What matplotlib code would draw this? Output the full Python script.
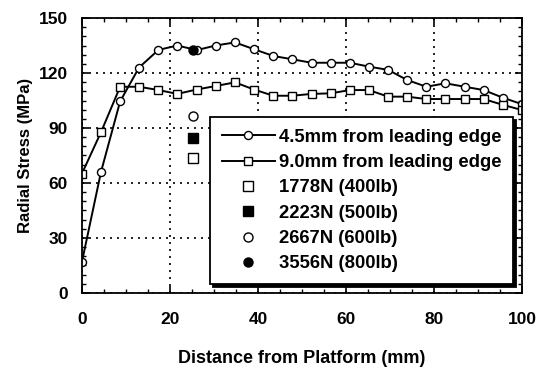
import matplotlib
matplotlib.use('Agg')
import matplotlib.pyplot as plt

plt.rcParams['font.family'] = ['Liberation Sans', 'DejaVu Sans']
plt.rcParams['font.weight'] = 'bold'

# distance from platform (mm)
dist = [0, 4.35, 8.7, 13.0, 17.4, 21.7, 26.1, 30.4, 34.8, 39.1, 43.5, 47.8,
        52.2, 56.5, 60.9, 65.2, 69.6, 73.9, 78.3, 82.6, 87.0, 91.3, 95.7, 100]
# 4.5mm from leading edge
stress_45 = [16.7, 66, 104.5, 123, 132.6, 135, 132.5, 135, 136.7, 133, 129.3, 127.5,
             125.6, 125.6, 125.6, 123.5, 121.7, 116.2, 112.5, 114.4, 112.5, 110.7, 106.5, 103]
# 9.0mm from leading edge
stress_90 = [65, 87.7, 112.5, 112.5, 110.7, 108.6, 111, 112.9, 114.9, 111, 107.6, 107.6,
             108.6, 108.9, 110.7, 110.7, 107.1, 107.1, 105.8, 105.8, 105.8, 105.8, 102.6, 99.8]

# single load points
load_x = 25.3
load_1778 = 73.5
load_2223 = 84.4
load_2667 = 96.6
load_3556 = 132.3

fig = plt.figure(figsize=(5.42, 3.68), dpi=100)
ax = fig.add_axes([0.151, 0.204, 0.812, 0.747])

ax.plot(dist, stress_45, '-o', color='black', lw=1.4, ms=5.8, mfc='white', mec='black',
        mew=1.0, label='4.5mm from leading edge')
ax.plot(dist, stress_90, '-s', color='black', lw=1.4, ms=5.8, mfc='white', mec='black',
        mew=1.0, label='9.0mm from leading edge')
ax.plot([load_x], [load_1778], 's', ms=6.5, mfc='white', mec='black', mew=1.0,
        ls='none', label='1778N (400lb)')
ax.plot([load_x], [load_2223], 's', ms=6.5, mfc='black', mec='black',
        ls='none', label='2223N (500lb)')
ax.plot([load_x], [load_2667], 'o', ms=6.5, mfc='white', mec='black', mew=1.0,
        ls='none', label='2667N (600lb)')
ax.plot([load_x], [load_3556], 'o', ms=6.5, mfc='black', mec='black',
        ls='none', label='3556N (800lb)')

ax.set_xlim(0, 100)
ax.set_ylim(0, 150)
ax.set_xticks([0, 20, 40, 60, 80, 100])
ax.set_yticks([0, 30, 60, 90, 120, 150])
ax.set_xticks(range(0, 101, 5), minor=True)
ax.set_yticks(range(0, 151, 5), minor=True)
ax.tick_params(which='both', direction='in', top=True, right=True, labelsize=12.5)
ax.tick_params(which='major', length=5, width=1.2)
ax.tick_params(axis='x', which='major', pad=14)
ax.tick_params(axis='y', which='major', pad=10)
ax.tick_params(which='minor', length=3, width=1.0)
ax.grid(True, which='major', ls=(0, (1.2, 3)), color='black', lw=1.2)
for s in ax.spines.values():
    s.set_linewidth(1.3)

ax.set_xlabel('Distance from Platform (mm)', fontsize=13, fontweight='bold', labelpad=16)
ax.set_ylabel('Radial Stress (MPa)', fontsize=12, fontweight='bold', labelpad=4)

leg = ax.legend(loc='lower right', bbox_to_anchor=(0.98, 0.033), borderaxespad=0,
                fontsize=13.3, handlelength=2.9, handletextpad=0.22, fancybox=False,
                framealpha=1, edgecolor='black',
                shadow={'color': 'black', 'alpha': 1}, labelspacing=0.45,
                borderpad=0.62)
leg.get_frame().set_linewidth(1.3)
leg.set_zorder(5)

fig.savefig('out.png', dpi=100)
